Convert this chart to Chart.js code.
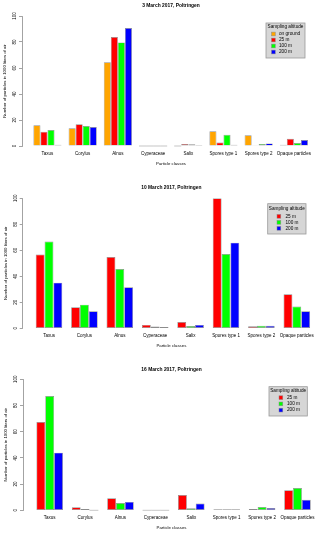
<!DOCTYPE html>
<html>
<head>
<meta charset="utf-8">
<script src="https://cdn.jsdelivr.net/npm/chart.js@4/dist/chart.umd.min.js"></script>
<style>
  html, body { margin: 0; padding: 0; background: #fff; }
  #wrap { position: relative; width: 320px; height: 533px; }
  .panel { position: absolute; left: 0; width: 320px; }
</style>
</head>
<body>
<div id="wrap">
  <div class="panel" style="top:0;height:177px"><canvas id="c1" width="320" height="177"></canvas></div>
  <div class="panel" style="top:177px;height:178px"><canvas id="c2" width="320" height="178"></canvas></div>
  <div class="panel" style="top:355px;height:178px"><canvas id="c3" width="320" height="178"></canvas></div>
</div>
<script>
// particle classes on the x axis
const classes = ['Taxus', 'Corylus', 'Alnus', 'Cyperaceae', 'Salix', 'Spores type 1', 'Spores type 2', 'Opaque particles'];
const yTicks = [0, 20, 40, 60, 80, 100];

// 3 March 2017
const mar03Ground = [16, 13.6, 64.4, 0, 0, 11.3, 8.2, 1];
const mar03m25 = [11, 16.7, 83.8, 0, 1.5, 2.6, 0.5, 5.6];
const mar03m100 = [12.3, 15.4, 79.7, 0, 1.3, 8.7, 1.5, 2.3];
const mar03m200 = [1, 14.6, 90.8, 0, 0.8, 1, 2, 4.6];

// 10 March 2017
const mar10m25 = [56.7, 16.2, 54.9, 2.6, 4.9, 100, 1.5, 26.2];
const mar10m100 = [66.7, 18.2, 45.6, 1.3, 1.8, 57.2, 2, 16.7];
const mar10m200 = [35.1, 13.1, 31.5, 1, 2.6, 65.9, 2, 13.1];

// 16 March 2017
const mar16m25 = [67.4, 2.3, 9.2, 0, 11.7, 0.8, 1, 15.3];
const mar16m100 = [87.3, 1, 5.6, 0, 1.5, 0.8, 2.5, 17];
const mar16m200 = [44, 0, 6.4, 0, 5.1, 0.8, 1.8, 8.1];

const COLORS = { 'on ground': '#FFA500', '25 m': '#FF0000', '100 m': '#00FF00', '200 m': '#0000FF' };
const FONT = "'Liberation Sans', Arial, sans-serif";
const TS = 4.9, TK = 4.5, AX = 4.3, LG = 4.7;

function series(label, values) {
  return {
    label,
    data: values.map((v, i) => ({ x: i, y: v })),
    backgroundColor: COLORS[label],
    borderColor: '#8c8c8c',
    borderWidth: 0.7,
    borderSkipped: false,
    barPercentage: 1
  };
}

// y axis labels (rotated, R style), empty-bar baselines and the legend box
const rAxisPlugin = {
  id: 'rAxis',
  afterDatasetsDraw(chart) {
    // R draws a zero-height bar as a thin grey line
    const { ctx } = chart;
    ctx.save();
    ctx.strokeStyle = '#a0a0a0';
    ctx.lineWidth = 0.6;
    chart.data.datasets.forEach((ds, i) => {
      chart.getDatasetMeta(i).data.forEach((bar, j) => {
        if (ds.data[j].y === 0) {
          ctx.beginPath();
          ctx.moveTo(bar.x - bar.width / 2, bar.base);
          ctx.lineTo(bar.x + bar.width / 2, bar.base);
          ctx.stroke();
        }
      });
    });
    ctx.restore();
  },
  afterDraw(chart) {
    const { ctx } = chart;
    const L = chart.options.plugins.rAxis;
    const ys = chart.scales.y;
    ctx.save();
    ctx.fillStyle = '#000';
    ctx.font = `${TK}px ${FONT}`;
    ctx.textAlign = 'center';
    ctx.textBaseline = 'middle';
    ys.ticks.forEach(t => {
      const py = ys.getPixelForValue(t.value);
      ctx.save();
      ctx.translate(L.tickX, py);
      ctx.rotate(-Math.PI / 2);
      ctx.fillText(String(t.value), 0, 0);
      ctx.restore();
    });

    const lg = L.legend;
    ctx.fillStyle = '#d6d6d6';
    ctx.strokeStyle = '#9a9a9a';
    ctx.lineWidth = 0.8;
    ctx.fillRect(lg.x, lg.y, lg.w, lg.h);
    ctx.strokeRect(lg.x, lg.y, lg.w, lg.h);
    ctx.fillStyle = '#000';
    ctx.font = `${LG}px ${FONT}`;
    ctx.fillText('Sampling altitude', lg.x + lg.w / 2, lg.titleY);
    ctx.textAlign = 'left';
    chart.data.datasets.forEach((ds, i) => {
      const ry = lg.rowY + i * lg.step;
      ctx.fillStyle = ds.backgroundColor;
      ctx.fillRect(lg.swatchX, ry - 1.9, 3.8, 3.8);
      ctx.strokeStyle = '#8c8c8c';
      ctx.lineWidth = 0.5;
      ctx.strokeRect(lg.swatchX, ry - 1.9, 3.8, 3.8);
      ctx.fillStyle = '#000';
      ctx.fillText(ds.label, lg.textX, ry);
    });
    ctx.restore();
  }
};

function makeChart(id, title, datasets, g) {
  const padLeft = g.yTitleX - AX / 2;
  const xBottom = g.xTitleY + AX / 2;
  const nSeries = datasets.length;
  return new Chart(document.getElementById(id), {
    type: 'bar',
    data: { datasets },
    plugins: [rAxisPlugin],
    options: {
      responsive: false,
      animation: false,
      devicePixelRatio: 1,
      categoryPercentage: nSeries / (nSeries + 1),
      layout: { padding: { left: padLeft, right: 0, top: 0, bottom: g.H - xBottom } },
      plugins: {
        legend: { display: false },
        tooltip: { enabled: false },
        title: {
          display: true,
          text: title,
          fullSize: false,
          color: '#000',
          font: { family: FONT, size: TS, weight: 'bold', lineHeight: 1 },
          padding: { top: g.titleY - TS / 2, bottom: g.chartTop - g.titleY - TS / 2 }
        },
        rAxis: { tickX: g.tickX, legend: g.legend }
      },
      scales: {
        x: {
          type: 'linear',
          offset: false,
          min: g.xmin,
          max: g.xmax,
          grid: { display: false, drawTicks: false, tickLength: 0 },
          border: { display: false },
          ticks: {
            color: '#000',
            font: { family: FONT, size: TK, lineHeight: 1 },
            padding: g.tickLabelY - g.chartBottom - TK / 2,
            autoSkip: false,
            maxRotation: 0,
            minRotation: 0,
            callback: v => classes[v]
          },
          afterBuildTicks: s => { s.ticks = classes.map((c, i) => ({ value: i })); },
          afterFit: s => { s.height = xBottom - g.chartBottom; s.paddingLeft = 0; s.paddingRight = 0; },
          title: {
            display: true,
            text: 'Particle classes',
            color: '#000',
            font: { family: FONT, size: AX, lineHeight: 1 },
            padding: 0
          }
        },
        y: {
          min: 0,
          max: 100,
          offset: false,
          afterBuildTicks: s => { s.ticks = yTicks.map(v => ({ value: v })); },
          grid: { display: true, drawOnChartArea: false, tickLength: 3, color: '#8c8c8c', lineWidth: 0.8 },
          border: { display: true, color: '#8c8c8c', width: 0.8 },
          ticks: { display: false },
          afterFit: s => { s.width = g.axisX - padLeft; s.paddingTop = 0; s.paddingBottom = 0; },
          title: {
            display: true,
            text: 'Number of particles in 1000 liters of air',
            color: '#000',
            font: { family: FONT, size: AX, lineHeight: 1 },
            padding: 0
          }
        }
      }
    }
  });
}

makeChart('c1', '3 March 2017, Poltringen', [
  series('on ground', mar03Ground),
  series('25 m', mar03m25),
  series('100 m', mar03m100),
  series('200 m', mar03m200)
], {
  H: 177, titleY: 5.5, chartTop: 16, chartBottom: 146, tickLabelY: 154, xTitleY: 164,
  axisX: 22, yTitleX: 5, tickX: 15, xmin: -0.724, xmax: 7.742,
  legend: { x: 266, y: 23, w: 39, h: 35, titleY: 26.5, rowY: 34, step: 6, swatchX: 271.5, textX: 279 }
});

makeChart('c2', '10 March 2017, Poltringen', [
  series('25 m', mar10m25),
  series('100 m', mar10m100),
  series('200 m', mar10m200)
], {
  H: 178, titleY: 10.7, chartTop: 21.3, chartBottom: 151.3, tickLabelY: 159, xTitleY: 169,
  axisX: 22.7, yTitleX: 5.5, tickX: 15.5, xmin: -0.743, xmax: 7.655,
  legend: { x: 267.7, y: 26.7, w: 38.3, h: 30.3, titleY: 31.7, rowY: 39.3, step: 6, swatchX: 277, textX: 285.5 }
});

makeChart('c3', '16 March 2017, Poltringen', [
  series('25 m', mar16m25),
  series('100 m', mar16m100),
  series('200 m', mar16m200)
], {
  H: 178, titleY: 14.7, chartTop: 24.3, chartBottom: 155.3, tickLabelY: 163, xTitleY: 173,
  axisX: 23, yTitleX: 6, tickX: 16, xmin: -0.754, xmax: 7.636,
  legend: { x: 269, y: 31.7, w: 38.3, h: 29.3, titleY: 35.7, rowY: 42.7, step: 6.2, swatchX: 279, textX: 287 }
});
</script>
</body>
</html>
